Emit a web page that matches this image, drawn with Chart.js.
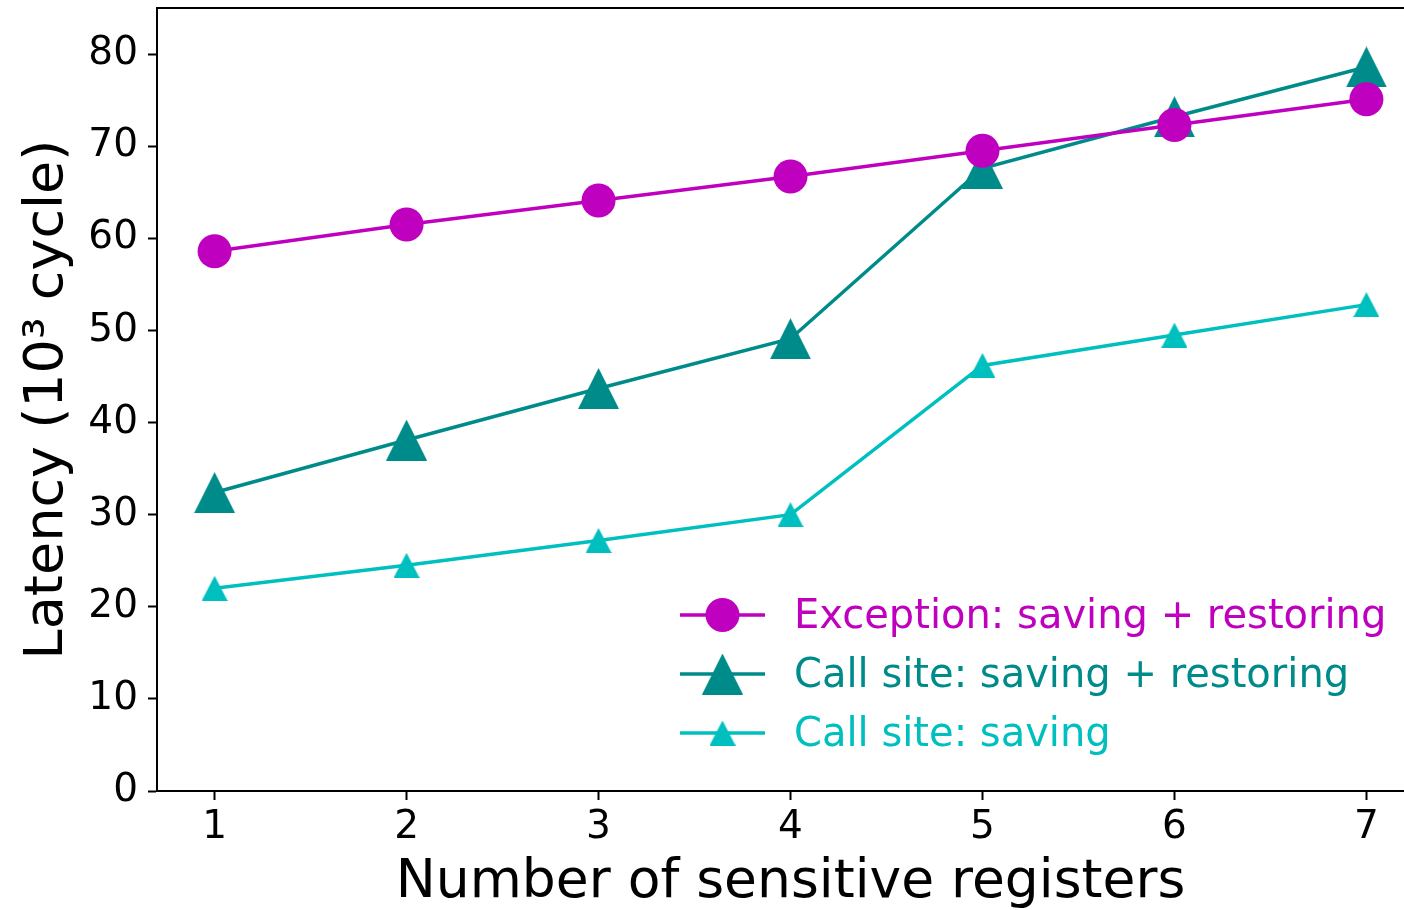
<!DOCTYPE html>
<html>
<head>
<meta charset="utf-8">
<script src="https://cdn.jsdelivr.net/npm/chart.js@4.4.1/dist/chart.umd.min.js"></script>
<style>
  html, body { margin: 0; padding: 0; overflow: hidden; background: #ffffff; }
  #wrap { position: relative; width: 1440px; height: 910px; }
</style>
</head>
<body>
<div id="wrap"><canvas id="chart" width="1440" height="910"></canvas></div>
<script>
// Latency (thousands of cycles) versus the number of sensitive registers
const registerCounts = [1, 2, 3, 4, 5, 6, 7];
const exceptionSaveRestore = [58.6, 61.5, 64.1, 66.7, 69.5, 72.3, 75.1];
const callSiteSaveRestore = [32.4, 38.1, 43.7, 49.1, 67.6, 73.2, 78.6];
const callSiteSave = [22.0, 24.5, 27.2, 30.0, 46.2, 49.5, 52.8];

const seriesLabels = [
  'Exception: saving + restoring',
  'Call site: saving + restoring',
  'Call site: saving'
];
const xTickLabels = ['1', '2', '3', '4', '5', '6', '7'];
const yTickValues = [0, 10, 20, 30, 40, 50, 60, 70, 80];

const FONT = "'DejaVu Sans', 'Liberation Sans', sans-serif";
const MAGENTA = '#bf00bf';
const TEAL = '#008b8b';
const CYAN = '#00bfbf';

// Upward triangle marker, centred on its bounding box
function triangleMarker(w, h, color) {
  const c = document.createElement('canvas');
  c.width = w; c.height = h;
  const g = c.getContext('2d');
  g.fillStyle = color;
  g.beginPath();
  g.moveTo(w / 2, 0);
  g.lineTo(w, h);
  g.lineTo(0, h);
  g.closePath();
  g.fill();
  return c;
}
const bigTriangle = triangleMarker(41, 41, TEAL);
const smallTriangle = triangleMarker(26, 25, CYAN);

function toPoints(values) {
  return registerCounts.map((x, i) => ({ x: x, y: values[i] }));
}

// Full frame around the plot area (top / right spines)
const framePlugin = {
  id: 'frame',
  afterDraw(chart) {
    const { ctx, chartArea: a } = chart;
    ctx.save();
    ctx.strokeStyle = '#000';
    ctx.lineWidth = 2;
    ctx.beginPath();
    ctx.moveTo(a.left, a.top);
    ctx.lineTo(a.right, a.top);
    ctx.lineTo(a.right, a.bottom);
    ctx.stroke();
    ctx.restore();
  }
};

// Legend drawn inside the lower part of the plot area
const insetLegend = {
  id: 'insetLegend',
  afterDatasetsDraw(chart) {
    const { ctx, chartArea: a } = chart;
    const lineStart = a.left + 523;
    const lineEnd = lineStart + 85;
    const textX = lineStart + 114;
    ctx.save();
    chart.data.datasets.forEach((ds, i) => {
      const y = a.bottom - 176 + i * 59;
      ctx.strokeStyle = ds.borderColor;
      ctx.lineWidth = ds.borderWidth;
      ctx.beginPath();
      ctx.moveTo(lineStart, y);
      ctx.lineTo(lineEnd, y);
      ctx.stroke();
      ctx.fillStyle = ds.pointBackgroundColor;
      Chart.helpers.drawPoint(ctx, {
        pointStyle: ds.pointStyle,
        radius: ds.pointRadius,
        rotation: 0,
        borderWidth: 0
      }, (lineStart + lineEnd) / 2, y);
      ctx.fillStyle = ds.borderColor;
      ctx.font = '40px ' + FONT;
      ctx.textAlign = 'left';
      ctx.textBaseline = 'middle';
      ctx.fillText(ds.label, textX, y + 3);
    });
    ctx.restore();
  }
};

new Chart(document.getElementById('chart'), {
  type: 'line',
  data: {
    datasets: [
      {
        label: seriesLabels[0],
        data: toPoints(exceptionSaveRestore),
        borderColor: MAGENTA,
        backgroundColor: MAGENTA,
        pointBackgroundColor: MAGENTA,
        pointBorderWidth: 0,
        borderWidth: 3.5,
        pointStyle: 'circle',
        pointRadius: 17
      },
      {
        label: seriesLabels[1],
        data: toPoints(callSiteSaveRestore),
        borderColor: TEAL,
        backgroundColor: TEAL,
        pointBackgroundColor: TEAL,
        pointBorderWidth: 0,
        borderWidth: 3.5,
        pointStyle: bigTriangle,
        pointRadius: 20
      },
      {
        label: seriesLabels[2],
        data: toPoints(callSiteSave),
        borderColor: CYAN,
        backgroundColor: CYAN,
        pointBackgroundColor: CYAN,
        pointBorderWidth: 0,
        borderWidth: 3.5,
        pointStyle: smallTriangle,
        pointRadius: 12
      }
    ]
  },
  options: {
    responsive: false,
    animation: false,
    devicePixelRatio: 1,
    layout: { autoPadding: false, padding: { top: 8, right: 16, left: 0, bottom: 0 } },
    plugins: {
      legend: { display: false },
      tooltip: { enabled: false }
    },
    elements: { line: { tension: 0 } },
    scales: {
      x: {
        type: 'linear',
        min: 0.7,
        max: 7.3,
        afterBuildTicks: s => { s.ticks = registerCounts.map(v => ({ value: v })); },
        afterFit: s => { s.height = 119; s.paddingLeft = 0; s.paddingRight = 0; },
        ticks: {
          color: '#000',
          font: { family: FONT, size: 39 },
          padding: 4,
          maxRotation: 0,
          autoSkip: false,
          callback: v => xTickLabels[registerCounts.indexOf(v)]
        },
        grid: {
          drawOnChartArea: false,
          drawTicks: true,
          tickLength: 9,
          tickWidth: 2,
          tickColor: '#000'
        },
        border: { display: true, color: '#000', width: 2 },
        title: {
          display: true,
          text: 'Number of sensitive registers',
          color: '#000',
          font: { family: FONT, size: 53.5, lineHeight: 1 },
          padding: { top: 0, bottom: 0 }
        }
      },
      y: {
        type: 'linear',
        min: 0,
        max: 85,
        afterBuildTicks: s => { s.ticks = yTickValues.map(v => ({ value: v })); },
        afterFit: s => { s.width = 157; s.paddingTop = 0; s.paddingBottom = 0; },
        ticks: {
          color: '#000',
          font: { family: FONT, size: 39 },
          padding: 10,
          autoSkip: false,
          callback: v => String(v)
        },
        grid: {
          drawOnChartArea: false,
          drawTicks: true,
          tickLength: 9,
          tickWidth: 2,
          tickColor: '#000'
        },
        border: { display: true, color: '#000', width: 2 },
        title: {
          display: true,
          text: 'Latency (10³ cycle)',
          color: '#000',
          font: { family: FONT, size: 54, lineHeight: 1 },
          padding: { top: 21, bottom: 0 }
        }
      }
    }
  },
  plugins: [framePlugin, insetLegend]
});
</script>
</body>
</html>
